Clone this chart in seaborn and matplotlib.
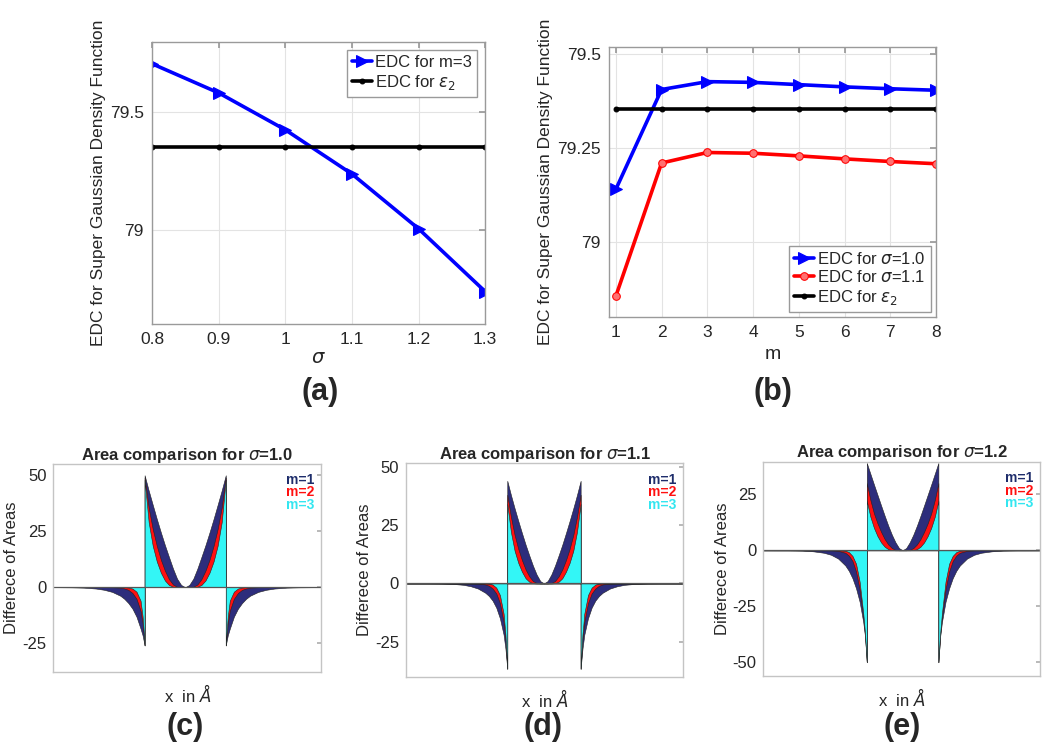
import numpy as np
import seaborn as sns
import matplotlib.pyplot as plt

# (a) EDC vs sigma
sigma = [0.8, 0.9, 1.0, 1.1, 1.2, 1.3]
edc_m3 = [79.707, 79.583, 79.426, 79.238, 79.005, 78.738]
edc_eps2_a = [79.353, 79.353, 79.353, 79.353, 79.353, 79.353]

# (b) EDC vs m
m_vals = [1, 2, 3, 4, 5, 6, 7, 8]
edc_s10 = [79.140, 79.406, 79.427, 79.425, 79.419, 79.413, 79.408, 79.404]
edc_s11 = [78.855, 79.210, 79.238, 79.236, 79.229, 79.221, 79.214, 79.208]
edc_eps2_b = [79.354, 79.354, 79.354, 79.354, 79.354, 79.354, 79.354, 79.354]

# (c)-(e) difference of areas, right half (x in units of the jump position)
t_in = [0.0, 0.1, 0.2, 0.3, 0.4, 0.5, 0.6, 0.7, 0.8, 0.9, 1.0]
t_out = [1.0, 1.05, 1.1, 1.2, 1.3, 1.4, 1.5, 1.6, 1.8, 2.0, 2.2, 2.5, 2.8, 3.2, 4.5]

c_m1_in = [0, 1.0, 3.8, 8.3, 13.5, 18.8, 24.5, 30.5, 36.8, 43.2, 50]
c_m2_in = [0, 0, 0.2, 1.2, 3.6, 7.4, 12.3, 18.5, 26, 35.5, 49]
c_m3_in = [0, 0, 0, 0.2, 1.0, 3.0, 6.5, 11.5, 18.5, 29, 48]
c_m1_out = [-26, -21.5, -18.5, -13.2, -9.6, -7.1, -5.2, -3.8, -2.1, -1.15, -0.6, -0.2, -0.06, 0, 0]
c_m2_out = [-26, -16, -10.5, -5.2, -2.6, -1.2, -0.55, -0.22, -0.03, 0, 0, 0, 0, 0, 0]
c_m3_out = [-26, -13, -6, -2, -0.6, -0.15, 0, 0, 0, 0, 0, 0, 0, 0, 0]

d_m1_in = [0, 1.0, 3.8, 7.6, 12, 16.6, 21.6, 26.8, 32.2, 37.9, 44]
d_m2_in = [0, 0, 0.2, 1.0, 3.0, 6.0, 10, 14.8, 20.8, 28.5, 38]
d_m3_in = [0, 0, 0, 0.1, 0.7, 2.2, 5, 8.8, 14, 22, 34]
d_m1_out = [-36.6, -28, -22, -15, -10.4, -7.4, -5.4, -4.0, -2.2, -1.2, -0.6, -0.2, -0.06, 0, 0]
d_m2_out = [-36.6, -24, -16.5, -8.5, -4.3, -2.2, -1.0, -0.45, -0.06, 0, 0, 0, 0, 0, 0]
d_m3_out = [-36.6, -22, -13, -5, -1.8, -0.5, -0.1, 0, 0, 0, 0, 0, 0, 0, 0]

e_m1_in = [0, 1.0, 3.6, 7.0, 11, 15.4, 20, 24.7, 29.4, 34.2, 39]
e_m2_in = [0, 0, 0.2, 1.0, 2.6, 5.0, 8.2, 12, 16.5, 22.5, 30]
e_m3_in = [0, 0, 0, 0.1, 0.5, 1.6, 3.5, 6.3, 10, 15, 22]
e_m1_out = [-50, -38.5, -32, -23, -17, -12.5, -9.2, -6.8, -3.7, -2.0, -1.1, -0.45, -0.14, -0.03, 0]
e_m2_out = [-50, -38, -29.5, -17.5, -9.5, -4.8, -2.4, -1.1, -0.25, 0, 0, 0, 0, 0, 0]
e_m3_out = [-50, -37, -28, -14, -6, -2.5, -0.8, -0.2, 0, 0, 0, 0, 0, 0, 0]

sns.set_theme(style="white")
plt.rcParams['font.family'] = ['Liberation Sans', 'DejaVu Sans']
plt.rcParams['mathtext.fontset'] = 'dejavusans'

fig = plt.figure(figsize=(10.5, 7.47), dpi=100)
fig.patch.set_facecolor('white')


def matlab_axes(ax):
    for s in ax.spines.values():
        s.set_color('#9a9a9a')
        s.set_linewidth(1.0)
    ax.tick_params(direction='in', length=4, color='#9a9a9a',
                   top=True, right=True, labelsize=12.5, pad=6)
    ax.grid(True, color='#e3e3e3', linewidth=0.8)
    ax.set_axisbelow(True)


leg_kw = dict(fontsize=12, handlelength=1.2, handletextpad=0.2, labelspacing=0.15,
              borderpad=0.3, fancybox=False, edgecolor='#9a9a9a', framealpha=1)

# ---------- (a) ----------
ax = fig.add_axes([0.145, 0.5663, 0.3171, 0.3775])
sns.lineplot(x=sigma, y=edc_m3, ax=ax, color='#0000ff', lw=2.6, marker='>',
             markersize=8, markeredgecolor='#0000ff', label='EDC for m=3')
sns.lineplot(x=sigma, y=edc_eps2_a, ax=ax, color='black', lw=2.6, marker='o',
             markersize=3.5, markeredgecolor='black', label=r'EDC for $\epsilon_2$')
ax.set_xlim(0.8, 1.3)
ax.set_ylim(78.6, 79.8)
ax.set_xticks(sigma)
ax.set_xticklabels(['0.8', '0.9', '1', '1.1', '1.2', '1.3'])
ax.set_yticks([79, 79.5])
ax.set_yticklabels(['79', '79.5'])
matlab_axes(ax)
ax.set_xlabel(r'$\sigma$', fontsize=14, labelpad=2)
ax.set_ylabel('EDC for Super Gaussian Density Function', fontsize=12.5, labelpad=3)
ax.legend(loc='upper right', borderaxespad=0.5, **leg_kw)
fig.text(0.305, 1 - 392 / 747, '(a)', ha='center', va='center', fontsize=22, fontweight='bold')

# ---------- (b) ----------
ax = fig.add_axes([0.58, 0.576, 0.3114, 0.3614])
sns.lineplot(x=m_vals, y=edc_s10, ax=ax, color='#0000ff', lw=2.6, marker='>',
             markersize=8, markeredgecolor='#0000ff', label=r'EDC for $\sigma$=1.0')
sns.lineplot(x=m_vals, y=edc_s11, ax=ax, color='#ff0000', lw=2.6, marker='o',
             markersize=5.5, markeredgecolor='#ff0000', markerfacecolor='#ff7070',
             label=r'EDC for $\sigma$=1.1')
sns.lineplot(x=m_vals, y=edc_eps2_b, ax=ax, color='black', lw=2.6, marker='o',
             markersize=3.5, markeredgecolor='black', label=r'EDC for $\epsilon_2$')
ax.set_xlim(0.85, 8.0)
ax.set_ylim(78.8, 79.52)
ax.set_xticks(m_vals)
ax.set_yticks([79, 79.25, 79.5])
ax.set_yticklabels(['79', '79.25', '79.5'])
matlab_axes(ax)
ax.set_xlabel('m', fontsize=14, labelpad=4)
ax.set_ylabel('EDC for Super Gaussian Density Function', fontsize=12.5, labelpad=3)
ax.legend(loc='lower right', borderaxespad=0.3, **leg_kw)
fig.text(0.736, 1 - 392 / 747, '(b)', ha='center', va='center', fontsize=22, fontweight='bold')


# ---------- (c)-(e) ----------
def mirror(inner, outer):
    t = np.concatenate([t_in, t_out])
    y = np.concatenate([inner, outer])
    return np.concatenate([-t[::-1], t]), np.concatenate([y[::-1], y])


panels = [
    ([0.0508, 0.100, 0.2550, 0.2788], (-3.25, 3.35), (-38, 55), [-25, 0, 25, 50], '1.0',
     (c_m1_in, c_m1_out), (c_m2_in, c_m2_out), (c_m3_in, c_m3_out), 0.176, '(c)'),
    ([0.3867, 0.0941, 0.2641, 0.2857], (-3.76, 3.80), (-40, 51.5), [-25, 0, 25, 50], '1.1',
     (d_m1_in, d_m1_out), (d_m2_in, d_m2_out), (d_m3_in, d_m3_out), 0.517, '(d)'),
    ([0.7270, 0.0955, 0.2635, 0.2865], (-3.89, 3.84), (-56, 39.6), [-50, -25, 0, 25], '1.2',
     (e_m1_in, e_m1_out), (e_m2_in, e_m2_out), (e_m3_in, e_m3_out), 0.859, '(e)'),
]
fill_colors = ['#2d2d7c', '#ff1010', '#33f6f6']
text_colors = ['#1e2d6b', '#ff1010', '#33e6f0']

for rect, xl, yl, yt, sig, p1, p2, p3, lx, lab in panels:
    ax = fig.add_axes(rect)
    for (inner, outer), fc in zip([p1, p2, p3], fill_colors):
        x, y = mirror(inner, outer)
        ax.fill_between(x, 0, y, facecolor=fc, edgecolor='#222222', linewidth=0.4)
    sns.lineplot(x=list(xl), y=[0, 0], ax=ax, color='#555555', lw=0.9)
    ax.set_xlim(*xl)
    ax.set_ylim(*yl)
    ax.set_xticks([])
    ax.set_yticks(yt)
    ax.set_yticklabels([str(v) for v in yt])
    for s in ax.spines.values():
        s.set_color('#c4c4c4')
        s.set_linewidth(1.0)
    ax.tick_params(axis='y', direction='in', length=3, color='#b0b0b0',
                   right=True, labelsize=12, pad=5)
    ax.set_title(r'Area comparison for $\sigma$=' + sig, fontsize=12,
                 fontweight='bold', pad=3)
    ax.set_ylabel('Differece of Areas', fontsize=12, labelpad=2)
    ax.set_xlabel(r'x  in $\AA$', fontsize=12, labelpad=8)
    for i, (txt, col) in enumerate(zip(['m=1', 'm=2', 'm=3'], text_colors)):
        ax.text(0.975, 0.955 - i * 0.058, txt, transform=ax.transAxes, ha='right',
                va='top', color=col, fontsize=10, fontweight='bold')
    fig.text(lx, 1 - 727 / 747, lab, ha='center', va='center', fontsize=22,
             fontweight='bold')

fig.savefig('out.png', dpi=100, facecolor='white')
